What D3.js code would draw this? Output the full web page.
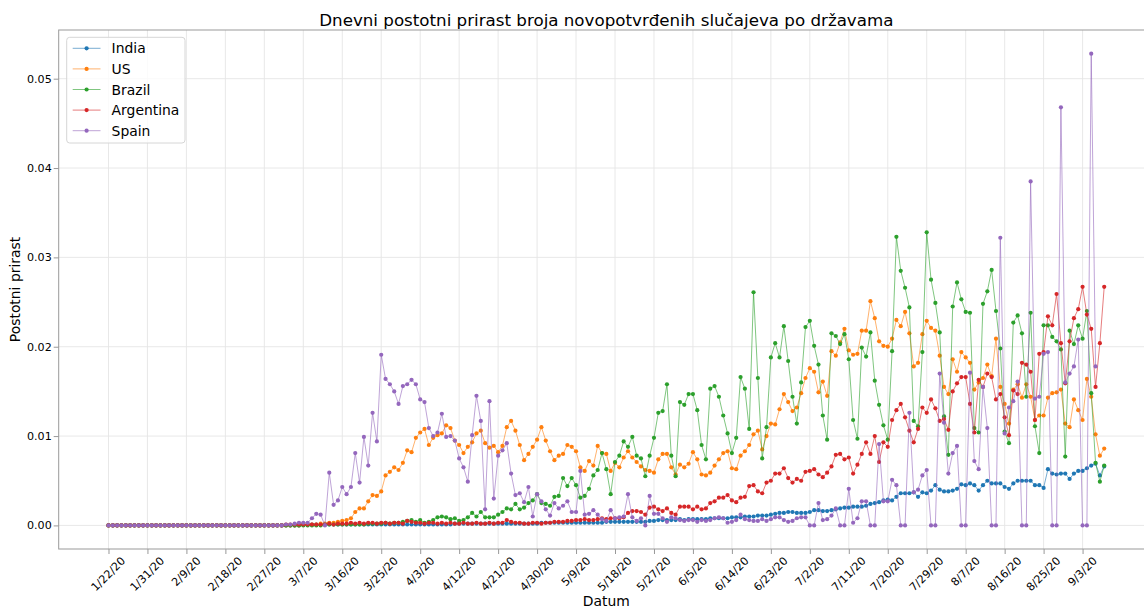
<!DOCTYPE html>
<html lang="hr">
<head>
    <meta charset="UTF-8">
    <title>Dnevni postotni prirast</title>
    <script src="https://d3js.org/d3.v7.min.js"></script>
    <style>
        body { margin: 0; background: #fff; }
        svg { display: block; font-family: "DejaVu Sans", sans-serif; }
    </style>
</head>
<body>
<script>
    // x tick labels (every 9th day)
    var tickLabels = ["1/22/20", "1/31/20", "2/9/20", "2/18/20", "2/27/20", "3/7/20", "3/16/20",
        "3/25/20", "4/3/20", "4/12/20", "4/21/20", "4/30/20", "5/9/20", "5/18/20", "5/27/20",
        "6/5/20", "6/14/20", "6/23/20", "7/2/20", "7/11/20", "7/20/20", "7/29/20", "8/7/20",
        "8/16/20", "8/25/20", "9/3/20"];
    var yTicks = [0, 0.01, 0.02, 0.03, 0.04, 0.05];
    var countries = ["India", "US", "Brazil", "Argentina", "Spain"];

    // one value per day, 1/22/20 .. 9/8/20
    var india = [
        0,0,0,0,0,0,0,0,0,0, 0,0,0,0,0,0,0,0,0,0, 0,0,0,0,0,0,0,0,0,0, 0,0,0,0,0,0,0,0,0,0,
        0,0,0,0,0,0.0001,0.0001,0.0001,0.0001,0.0001,
        0.0001,0.0001,0.0001,0.0001,0.0001,0.0001,0.0001,0.0001,0.0001,0.0001,
        0.0001,0.0001,0.0001,0.0001,0.0001,0.0001,0.0001,0.0001,0.0001,0.0001,
        0.0001,0.0001,0.0001,0.0001,0.0001,0.0001,0.0001,0.0001,0.0001,0.0001,
        0.0002,0.0002,0.0002,0.0002,0.0002,0.0002,0.0002,0.0002,0.0002,0.0002,
        0.0002,0.0002,0.0002,0.0002,0.0002,0.0002,0.0002,0.0002,0.0002,0.0002,
        0.0003,0.0003,0.0003,0.0003,0.0003,0.0003,0.0003,0.0003,0.0003,0.0003,
        0.0003,0.0003,0.0003,0.0003,0.0003,0.0004,0.0004,0.0004,0.0004,0.0004,
        0.0004,0.0004,0.0004,0.0004,0.0004,0.0005,0.0005,0.0006,0.0006,0.0006,
        0.0006,0.0006,0.0007,0.0006,0.0007,0.0007,0.0007,0.0007,0.0007,0.0008,
        0.0008,0.0008,0.0008,0.0008,0.0009,0.0009,0.0009,0.0010,0.0010,0.0010,
        0.0011,0.0011,0.0011,0.0012,0.0013,0.0014,0.0014,0.0015,0.0015,0.0014,
        0.0014,0.0014,0.0015,0.0017,0.0017,0.0016,0.0016,0.0017,0.0018,0.0019,
        0.0020,0.0020,0.0021,0.0021,0.0021,0.0022,0.0024,0.0025,0.0026,0.0028,
        0.0029,0.0028,0.0032,0.0036,0.0036,0.0036,0.0037,0.0032,0.0037,0.0036,
        0.0039,0.0045,0.0040,0.0038,0.0038,0.0039,0.0041,0.0046,0.0045,0.0047,
        0.0045,0.0039,0.0045,0.0050,0.0047,0.0047,0.0047,0.0043,0.0041,0.0047,
        0.0050,0.0050,0.0050,0.0050,0.0045,0.0045,0.0042,0.0063,0.0058,0.0057,
        0.0058,0.0058,0.0052,0.0058,0.0061,0.0061,0.0064,0.0067,0.0069,0.0056,
        0.0066
    ];
    var us = [
        0,0,0,0,0,0,0,0,0,0, 0,0,0,0,0,0,0,0,0,0, 0,0,0,0,0,0,0,0,0,0, 0,0,0,0,0,0,0,0,0,0,
        0,0,0,0,0,0.0001,0.0001,0.0001,0.0001,0.0002,
        0.0002,0.0003,0.0003,0.0004,0.0005,0.0006,0.0008,0.0015,0.0019,0.0019,
        0.0027,0.0034,0.0033,0.0038,0.0056,0.0060,0.0065,0.0062,0.0070,0.0084,
        0.0082,0.0098,0.0104,0.0108,0.0090,0.0098,0.0101,0.0103,0.0112,0.0109,
        0.0095,0.0090,0.0081,0.0088,0.0093,0.0103,0.0106,0.0092,0.0087,0.0089,
        0.0082,0.0089,0.0110,0.0117,0.0106,0.0090,0.0073,0.0080,0.0088,0.0096,
        0.0110,0.0095,0.0083,0.0073,0.0078,0.0080,0.0090,0.0088,0.0083,0.0065,
        0.0061,0.0072,0.0067,0.0089,0.0081,0.0080,0.0061,0.0070,0.0065,0.0076,
        0.0083,0.0076,0.0071,0.0066,0.0062,0.0061,0.0059,0.0074,0.0080,0.0080,
        0.0065,0.0057,0.0068,0.0065,0.0069,0.0082,0.0074,0.0057,0.0056,0.0059,
        0.0067,0.0074,0.0081,0.0083,0.0064,0.0063,0.0078,0.0083,0.0090,0.0102,
        0.0106,0.0085,0.0100,0.0114,0.0113,0.0130,0.0147,0.0138,0.0128,0.0132,
        0.0148,0.0165,0.0176,0.0172,0.0149,0.0161,0.0145,0.0195,0.0190,0.0205,
        0.0220,0.0196,0.0191,0.0192,0.0218,0.0218,0.0251,0.0232,0.0206,0.0201,
        0.0200,0.0209,0.0230,0.0223,0.0239,0.0215,0.0178,0.0182,0.0214,0.0229,
        0.0221,0.0218,0.0190,0.0155,0.0147,0.0186,0.0172,0.0194,0.0188,0.0182,
        0.0152,0.0160,0.0165,0.0180,0.0167,0.0209,0.0155,0.0136,0.0114,0.0152,
        0.0158,0.0143,0.0158,0.0144,0.0118,0.0123,0.0123,0.0143,0.0148,0.0149,
        0.0152,0.0114,0.0110,0.0141,0.0129,0.0118,0.0164,0.0144,0.0102,0.0078,
        0.0086
    ];
    var brazil = [
        0,0,0,0,0,0,0,0,0,0, 0,0,0,0,0,0,0,0,0,0, 0,0,0,0,0,0,0,0,0,0, 0,0,0,0,0,0,0,0,0,0,
        0,0,0,0,0,0,0,0,0,0,
        0.0001,0.0001,0.0001,0.0001,0.0001,0.0001,0.0001,0.0001,0.0001,0.0001,
        0.0002,0.0002,0.0002,0.0002,0.0003,0.0002,0.0003,0.0003,0.0004,0.0005,
        0.0006,0.0004,0.0006,0.0003,0.0004,0.0006,0.0009,0.0010,0.0009,0.0007,
        0.0008,0.0005,0.0006,0.0009,0.0014,0.0010,0.0015,0.0009,0.0009,0.0009,
        0.0012,0.0015,0.0019,0.0018,0.0024,0.0018,0.0020,0.0025,0.0028,0.0035,
        0.0025,0.0024,0.0022,0.0032,0.0033,0.0053,0.0044,0.0053,0.0045,0.0031,
        0.0033,0.0041,0.0056,0.0062,0.0081,0.0063,0.0035,0.0071,0.0078,0.0094,
        0.0088,0.0099,0.0078,0.0075,0.0055,0.0078,0.0098,0.0126,0.0128,0.0158,
        0.0078,0.0055,0.0138,0.0135,0.0147,0.0147,0.0129,0.0090,0.0074,0.0153,
        0.0156,0.0144,0.0123,0.0103,0.0081,0.0098,0.0166,0.0153,0.0108,0.0261,
        0.0165,0.0075,0.0110,0.0188,0.0204,0.0188,0.0223,0.0184,0.0144,0.0114,
        0.0160,0.0222,0.0229,0.0201,0.0180,0.0123,0.0096,0.0215,0.0212,0.0203,
        0.0214,0.0186,0.0118,0.0097,0.0199,0.0189,0.0216,0.0162,0.0135,0.0112,
        0.0096,0.0195,0.0323,0.0285,0.0266,0.0244,0.0117,0.0111,0.0194,0.0328,
        0.0275,0.0249,0.0216,0.0122,0.0079,0.0245,0.0272,0.0253,0.0239,0.0238,
        0.0109,0.0104,0.0248,0.0262,0.0286,0.0240,0.0198,0.0105,0.0092,0.0227,
        0.0235,0.0215,0.0144,0.0238,0.0111,0.0081,0.0224,0.0224,0.0211,0.0206,
        0.0197,0.0077,0.0218,0.0203,0.0224,0.0209,0.0240,0.0148,0.0070,0.0049,
        0.0067
    ];
    var argentina = [
        0,0,0,0,0,0,0,0,0,0, 0,0,0,0,0,0,0,0,0,0, 0,0,0,0,0,0,0,0,0,0, 0,0,0,0,0,0,0,0,0,0,
        0,0.0001,0.0001,0.0001,0.0001,0.0001,0.0001,0.0001,0.0001,0.0001,
        0.0001,0.0002,0.0001,0.0002,0.0002,0.0002,0.0003,0.0002,0.0003,0.0002,
        0.0003,0.0003,0.0002,0.0003,0.0003,0.0002,0.0003,0.0003,0.0002,0.0005,
        0.0004,0.0003,0.0003,0.0002,0.0003,0.0003,0.0002,0.0003,0.0002,0.0003,
        0.0002,0.0002,0.0003,0.0002,0.0002,0.0003,0.0002,0.0002,0.0003,0.0002,
        0.0003,0.0003,0.0006,0.0004,0.0003,0.0003,0.0002,0.0002,0.0003,0.0003,
        0.0002,0.0003,0.0003,0.0004,0.0004,0.0004,0.0005,0.0005,0.0006,0.0006,
        0.0007,0.0006,0.0006,0.0007,0.0008,0.0007,0.0008,0.0008,0.0008,0.0009,
        0.0014,0.0016,0.0016,0.0015,0.0012,0.0020,0.0021,0.0018,0.0016,0.0019,
        0.0014,0.0012,0.0021,0.0021,0.0021,0.0018,0.0021,0.0018,0.0019,0.0025,
        0.0027,0.0031,0.0031,0.0034,0.0028,0.0026,0.0031,0.0032,0.0044,0.0045,
        0.0038,0.0036,0.0048,0.0050,0.0058,0.0058,0.0064,0.0053,0.0048,0.0052,
        0.0050,0.0060,0.0061,0.0063,0.0057,0.0054,0.0059,0.0066,0.0079,0.0080,
        0.0074,0.0076,0.0058,0.0068,0.0080,0.0093,0.0080,0.0100,0.0071,0.0093,
        0.0088,0.0118,0.0129,0.0136,0.0121,0.0106,0.0093,0.0108,0.0132,0.0126,
        0.0141,0.0131,0.0117,0.0119,0.0107,0.0150,0.0159,0.0166,0.0166,0.0136,
        0.0104,0.0163,0.0155,0.0170,0.0166,0.0141,0.0147,0.0121,0.0101,0.0151,
        0.0147,0.0182,0.0180,0.0172,0.0118,0.0192,0.0194,0.0234,0.0224,0.0259,
        0.0204,0.0159,0.0206,0.0232,0.0242,0.0267,0.0236,0.0220,0.0155,0.0204,
        0.0267
    ];
    var spain = [
        0,0,0,0,0,0,0,0,0,0, 0,0,0,0,0,0,0,0,0,0, 0,0,0,0,0,0,0,0,0,0, 0,0,0,0,0,0,0,0,0,0,
        0,0.0001,0.0001,0.0002,0.0003,0.0003,0.0003,0.0008,0.0013,0.0012,
        0,0.0059,0.0023,0.0028,0.0043,0.0035,0.0043,0.0081,0.0048,0.0099,
        0.0067,0.0126,0.0094,0.0191,0.0164,0.0158,0.0150,0.0136,0.0156,0.0158,
        0.0163,0.0158,0.0141,0.0138,0.0109,0.0100,0.0104,0.0125,0.0099,0.0100,
        0.0095,0.0075,0.0065,0.0049,0.0101,0.0145,0.0117,0.0018,0.0139,0.0030,
        0.0078,0.0084,0.0092,0.0058,0.0034,0.0036,0.0026,0.0043,0.0010,0.0035,
        0.0027,0.0018,0.0011,0.0025,0.0019,0.0022,0.0027,0.0015,0.0015,0.0061,
        0.0012,0.0013,0.0017,0.0012,0.0007,0.0005,0.0017,0.0008,0.0009,0.0010,
        0.0035,0.0009,0.0005,0.0008,0,0.0033,0.0013,0.0013,0.0008,0.0004,
        0.0009,0.0008,0.0006,0.0005,0.0006,0.0006,0.0004,0.0006,0.0005,0.0006,
        0.0008,0.0009,0.0008,0.0003,0.0004,0.0006,0.0012,0.0007,0.0006,0.0005,
        0.0005,0.0007,0.0005,0.0007,0.0009,0.0009,0.0006,0.0004,0.0005,0.0008,
        0.0009,0.0009,0,0,0.0025,0.0006,0.0007,0.0011,0.0019,0,
        0,0.0041,0.0003,0.0008,0.0027,0.0027,0,0,0.0091,0.0027,
        0.0027,0.0051,0.0045,0,0,0.0126,0.0037,0.0040,0.0056,0.0062,
        0,0,0.0170,0.0115,0.0058,0.0081,0.0089,0,0,0.0171,
        0.0072,0.0063,0.0155,0.0109,0,0,0.0322,0.0103,0.0132,0.0139,
        0.0161,0,0,0.0385,0.0142,0.0144,0.0192,0.0194,0,0,
        0.0468,0.0160,0.0170,0.0178,0.0208,0,0,0.0528,0.0178,null,
        null
    ];

    var colors = ["#1f77b4", "#ff7f0e", "#2ca02c", "#d62728", "#9467bd"];
    var seriesValues = [india, us, brazil, argentina, spain];

    var w = 1144, h = 608;
    // plot box (window.top is reserved, so own names)
    var plotLeft = 58.7, plotRight = 1154, plotTop = 30, plotBottom = 549;

    var startDate = new Date(Date.UTC(2020, 0, 22));
    var parseLabel = d3.utcParse("%m/%d/%y");

    var series = countries.map(function(name, k) {
        return {
            name: name,
            color: colors[k],
            points: seriesValues[k].map(function(v, i) {
                return { date: d3.utcDay.offset(startDate, i), v: v };
            })
        };
    });
    var lastDate = series[0].points[series[0].points.length - 1].date;

    // 5% padding on each side, like matplotlib
    var x = d3.scaleUtc()
        .domain([d3.utcHour.offset(startDate, -276), d3.utcHour.offset(lastDate, 276)])
        .range([plotLeft, plotRight]);
    var y = d3.scaleLinear()
        .domain([-0.00264, 0.05545])
        .range([plotBottom, plotTop]);

    var svg = d3.select("body")
        .append("svg")
        .attr("width", w)
        .attr("height", h);

    var tickDates = tickLabels.map(parseLabel);

    // grid
    svg.append("g")
        .selectAll("line")
        .data(tickDates)
        .enter()
        .append("line")
        .attr("x1", function(d) { return x(d); })
        .attr("x2", function(d) { return x(d); })
        .attr("y1", plotTop)
        .attr("y2", plotBottom)
        .attr("stroke", "#e5e5e5")
        .attr("stroke-width", 0.9);
    svg.append("g")
        .selectAll("line")
        .data(yTicks)
        .enter()
        .append("line")
        .attr("x1", plotLeft)
        .attr("x2", plotRight)
        .attr("y1", function(d) { return y(d); })
        .attr("y2", function(d) { return y(d); })
        .attr("stroke", "#e5e5e5")
        .attr("stroke-width", 0.9);

    // series
    var line = d3.line()
        .defined(function(d) { return d.v != null; })
        .x(function(d) { return x(d.date); })
        .y(function(d) { return y(d.v); });

    series.forEach(function(s) {
        var g = svg.append("g");
        g.append("path")
            .datum(s.points)
            .attr("d", line)
            .attr("fill", "none")
            .attr("stroke", s.color)
            .attr("stroke-opacity", 0.6)
            .attr("stroke-width", 1);
        g.selectAll("circle")
            .data(s.points.filter(function(d) { return d.v != null; }))
            .enter()
            .append("circle")
            .attr("cx", function(d) { return x(d.date); })
            .attr("cy", function(d) { return y(d.v); })
            .attr("r", 2.1)
            .attr("fill", s.color);
    });

    // spines (right one falls outside the picture)
    svg.append("rect")
        .attr("x", plotLeft)
        .attr("y", plotTop)
        .attr("width", plotRight - plotLeft)
        .attr("height", plotBottom - plotTop)
        .attr("fill", "none")
        .attr("stroke", "#999")
        .attr("stroke-width", 1);

    // x axis
    var xAxis = svg.append("g")
        .attr("transform", "translate(0," + plotBottom + ")")
        .call(d3.axisBottom(x).tickValues(tickDates).tickSize(5).tickFormat(""));
    xAxis.select(".domain").remove();
    xAxis.selectAll(".tick line").attr("stroke", "#999");

    var fs = 11.1;
    svg.append("g")
        .selectAll("text")
        .data(tickLabels)
        .enter()
        .append("text")
        .text(function(d) { return d; })
        .attr("font-size", fs)
        .attr("fill", "#000")
        .attr("text-anchor", "middle")
        .attr("dominant-baseline", "central")
        .attr("transform", function(d, i) {
            var len = this.getComputedTextLength();
            var cy = plotBottom + 7 + (len + 0.8 * fs) * 0.3536;
            return "translate(" + x(tickDates[i]) + "," + cy + ") rotate(-45)";
        });

    // y axis
    var yAxis = svg.append("g")
        .attr("transform", "translate(" + plotLeft + ",0)")
        .call(d3.axisLeft(y).tickValues(yTicks).tickSize(5).tickPadding(2).tickFormat(d3.format(".2f")));
    yAxis.select(".domain").remove();
    yAxis.selectAll(".tick line").attr("stroke", "#999");
    yAxis.selectAll(".tick text")
        .attr("font-size", fs)
        .attr("font-family", "DejaVu Sans")
        .attr("fill", "#000");

    // titles
    svg.append("text")
        .attr("x", (plotLeft + plotRight) / 2)
        .attr("y", 25.5)
        .attr("text-anchor", "middle")
        .attr("font-size", 16.7)
        .text("Dnevni postotni prirast broja novopotvrđenih slučajeva po državama");
    svg.append("text")
        .attr("x", (plotLeft + plotRight) / 2)
        .attr("y", 606)
        .attr("text-anchor", "middle")
        .attr("font-size", 13.9)
        .text("Datum");
    svg.append("text")
        .attr("transform", "translate(20," + (plotTop + plotBottom) / 2 + ") rotate(-90)")
        .attr("text-anchor", "middle")
        .attr("font-size", 13.9)
        .text("Postotni prirast");

    // legend
    var legend = svg.append("g");
    legend.append("rect")
        .attr("x", 66.7)
        .attr("y", 37.3)
        .attr("width", 118.3)
        .attr("height", 105.7)
        .attr("rx", 3)
        .attr("fill", "#fff")
        .attr("fill-opacity", 0.8)
        .attr("stroke", "#d6d6d6");
    var rows = legend.selectAll("g.row")
        .data(series)
        .enter()
        .append("g")
        .attr("class", "row")
        .attr("transform", function(d, i) { return "translate(0," + (48.3 + i * 20.6) + ")"; });
    rows.append("line")
        .attr("x1", 72.7)
        .attr("x2", 100.5)
        .attr("stroke", function(d) { return d.color; })
        .attr("stroke-opacity", 0.6)
        .attr("stroke-width", 1);
    rows.append("circle")
        .attr("cx", 86.6)
        .attr("r", 2.1)
        .attr("fill", function(d) { return d.color; });
    rows.append("text")
        .attr("x", 111.6)
        .attr("y", 5)
        .attr("font-size", 13.9)
        .attr("fill", "#000")
        .text(function(d) { return d.name; });
</script>
</body>
</html>
